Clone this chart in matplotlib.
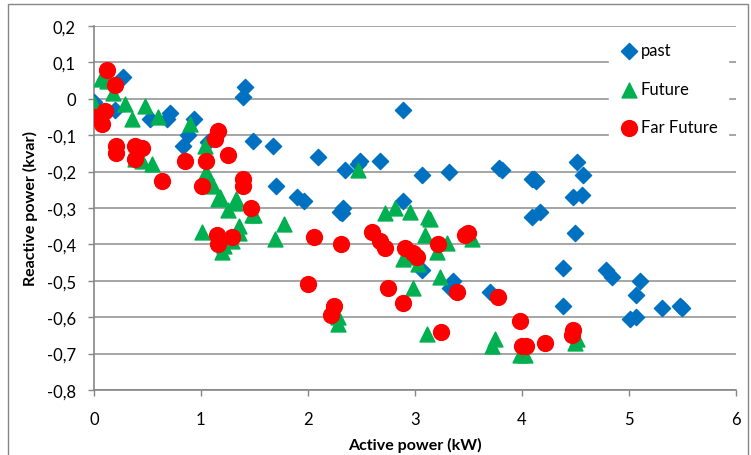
import matplotlib.pyplot as plt
from matplotlib.patches import Rectangle

plt.rcParams['font.family'] = ['Lato', 'DejaVu Sans']

# Past
past_p = [0.0, 0.2, 0.27, 0.52, 0.71, 0.68, 0.94, 0.88, 0.83, 1.16, 1.07, 1.41, 1.39,
          1.49, 1.67, 1.70, 1.90, 1.96, 2.09, 2.35, 2.49, 2.47, 2.67, 2.89, 3.07, 3.32,
          3.81, 3.79, 4.09, 4.13, 2.30, 2.33, 2.89, 4.09, 2.32, 3.07, 3.36, 3.33, 3.70,
          4.51, 4.57, 4.11, 4.48, 4.56, 4.17, 4.50, 4.38, 4.79, 4.84, 5.10, 5.07, 4.38,
          5.31, 5.48, 5.50, 5.01, 5.07]
past_q = [-0.01, -0.03, 0.06, -0.055, -0.04, -0.055, -0.055, -0.10, -0.13, -0.09, -0.12,
          0.033, 0.005, -0.115, -0.13, -0.24, -0.27, -0.28, -0.16, -0.195, -0.17, -0.18,
          -0.17, -0.03, -0.21, -0.20, -0.195, -0.19, -0.22, -0.225, -0.31, -0.30, -0.28,
          -0.325, -0.315, -0.47, -0.50, -0.52, -0.53, -0.175, -0.21, -0.22, -0.27, -0.265,
          -0.31, -0.37, -0.465, -0.47, -0.49, -0.50, -0.54, -0.57, -0.575, -0.57, -0.575,
          -0.605, -0.60]

# Future
fut_p = [0.0, 0.07, 0.12, 0.18, 0.29, 0.36, 0.48, 0.60, 0.45, 0.38, 0.54, 0.90, 1.04,
         1.05, 1.07, 1.11, 1.18, 1.25, 1.33, 1.50, 1.16, 1.32, 1.01, 1.36, 1.36, 1.48,
         1.20, 1.22, 1.29, 1.69, 1.78, 2.47, 2.72, 2.81, 2.95, 3.12, 3.14, 3.09, 3.30,
         3.53, 3.21, 2.89, 2.97, 3.03, 3.23, 2.98, 2.28, 2.28, 3.11, 3.75, 3.72, 4.03,
         3.98, 4.50, 4.51]
fut_q = [-0.015, 0.055, 0.05, 0.015, -0.015, -0.055, -0.02, -0.05, -0.17, -0.165, -0.18,
         -0.07, -0.13, -0.20, -0.23, -0.24, -0.27, -0.305, -0.275, -0.32, -0.275, -0.285,
         -0.365, -0.35, -0.37, -0.32, -0.42, -0.405, -0.39, -0.385, -0.345, -0.195,
         -0.315, -0.30, -0.31, -0.325, -0.33, -0.375, -0.395, -0.385, -0.42, -0.44,
         -0.435, -0.455, -0.49, -0.52, -0.60, -0.62, -0.645, -0.66, -0.68, -0.705,
         -0.705, -0.67, -0.66]

# Far Future
far_p = [0.12, 0.2, 0.10, 0.01, 0.08, 0.21, 0.21, 0.38, 0.45, 0.38, 0.64, 0.85, 1.05,
         1.01, 1.16, 1.13, 1.25, 1.39, 1.39, 1.47, 1.15, 1.29, 1.16, 2.0, 2.06, 2.31,
         2.60, 2.67, 2.72, 2.91, 2.98, 3.02, 3.22, 3.47, 3.50, 2.75, 2.89, 3.39, 3.78,
         2.24, 2.22, 3.24, 3.98, 4.0, 4.04, 4.22, 4.48, 4.47]
far_q = [0.08, 0.037, -0.035, -0.05, -0.07, -0.13, -0.15, -0.13, -0.135, -0.165, -0.225,
         -0.17, -0.17, -0.24, -0.09, -0.11, -0.155, -0.22, -0.24, -0.30, -0.375, -0.38,
         -0.40, -0.51, -0.38, -0.40, -0.365, -0.39, -0.41, -0.41, -0.425, -0.435, -0.40,
         -0.375, -0.37, -0.52, -0.56, -0.53, -0.545, -0.57, -0.595, -0.64, -0.61, -0.68,
         -0.68, -0.67, -0.635, -0.65]

fig = plt.figure(figsize=(7.51, 4.56), dpi=100)
ax = fig.add_axes([0.125, 0.1425, 0.855, 0.7985])

ax.scatter(past_p, past_q, marker='D', s=68, color='#0070C0', label='past', zorder=3)
ax.scatter(fut_p, fut_q, marker='^', s=115, color='#00B050', label='Future', zorder=4)
ax.scatter(far_p, far_q, marker='o', s=130, color='#FF0000', label='Far Future', zorder=5)

ax.set_xlim(0, 6)
ax.set_ylim(-0.8, 0.2)
ax.set_xticks(range(7))
yt = [0.2, 0.1, 0, -0.1, -0.2, -0.3, -0.4, -0.5, -0.6, -0.7, -0.8]
ax.set_yticks(yt)
ax.set_yticklabels(['0' if v == 0 else f'{v:.1f}'.replace('.', ',') for v in yt])
ax.tick_params(labelsize=12, color='#868686', length=4, width=1)
ax.tick_params(axis='y', pad=9)
ax.tick_params(axis='x', pad=11)
ax.yaxis.grid(True, color='#969696', linewidth=1.2)
ax.set_axisbelow(True)
for s in ['top', 'right']:
    ax.spines[s].set_visible(False)
for s in ['left', 'bottom']:
    ax.spines[s].set_color('#868686')
    ax.spines[s].set_linewidth(1.2)

ax.set_xlabel('Active power (kW)', fontsize=11.5, fontweight='bold', labelpad=7)
ax.set_ylabel('Reactive power (kvar)', fontsize=11.5, fontweight='bold', labelpad=6)

leg = ax.legend(loc='upper right', bbox_to_anchor=(1.0, 1.005), frameon=True,
                fontsize=12, handletextpad=0.1, labelspacing=1.35,
                borderpad=0.6, handlelength=1.2)
leg.get_frame().set_edgecolor('white')
leg.get_frame().set_facecolor('white')
leg.get_frame().set_alpha(1)

fig.patches.append(Rectangle((8 / 751, -0.01), 740 / 751, 1 - 5 / 456 + 0.01,
                             transform=fig.transFigure, fill=False,
                             edgecolor='#868686', linewidth=1))

plt.savefig('out.png', dpi=100)
